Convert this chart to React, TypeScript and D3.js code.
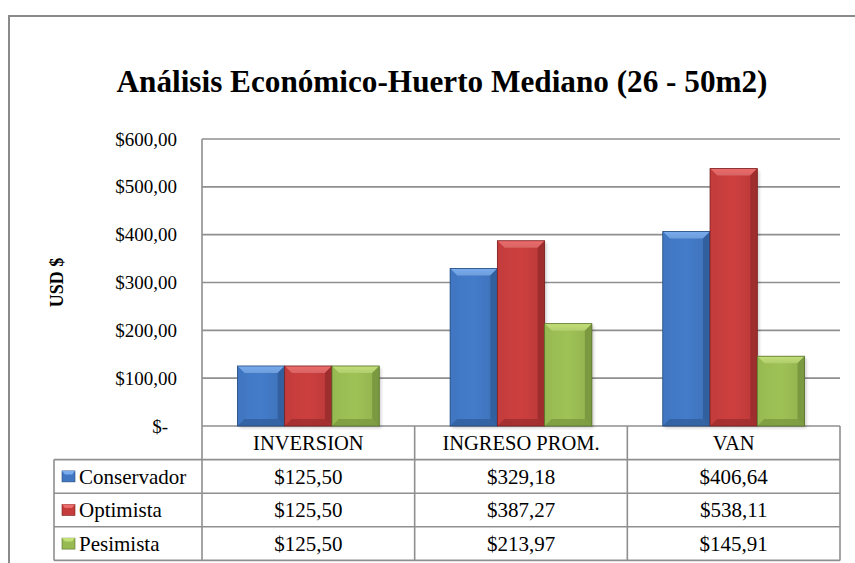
import React from "react";
import * as d3 from "d3";

// Categories, series and values
const categories = ["INVERSION", "INGRESO PROM.", "VAN"];
const seriesNames = ["Conservador", "Optimista", "Pesimista"];
const conservador = [125.5, 329.18, 406.64];
const optimista = [125.5, 387.27, 538.11];
const pesimista = [125.5, 213.97, 145.91];
const seriesValues = [conservador, optimista, pesimista];
const yTicks = [0, 100, 200, 300, 400, 500, 600];

const title = "Análisis Económico-Huerto Mediano (26 - 50m2)";
const yTitle = "USD $";

// Bar palettes: main, light bevel, dark bevel, outline
const palettes = [
  { main: "#4177c2", light: "#78acef", dark: "#325f9e", edge: "#254a7c" },
  { main: "#c43c3c", light: "#ec6c6c", dark: "#9e2d2d", edge: "#7a2020" },
  { main: "#98ba52", light: "#c2e078", dark: "#7a9940", edge: "#58712a" },
];

const W = 855;
const H = 563;
const plot = { left: 202, right: 840, top: 139, bottom: 426 };
const tableLeft = 54;
const rowH = 33.6;
const serif = "'Liberation Serif', 'Times New Roman', serif";
const gridColor = "#8f8f8f";

const locale = d3.formatLocale({
  decimal: ",",
  thousands: ".",
  grouping: [3],
  currency: ["$", ""],
});
const money = locale.format("$,.2f");
const tickFmt = (v: number) => (v === 0 ? "$-" : money(v));

function Bevel({ x, y, w, h, si }: { x: number; y: number; w: number; h: number; si: number }) {
  const p = palettes[si];
  const b = Math.min(7, h / 2, w / 2);
  return (
    <g>
      <rect x={x + 2} y={y + 2} width={w} height={h} fill="#000" opacity={0.18} filter="url(#shadowBlur)" />
      <rect x={x} y={y} width={w} height={h} fill={`url(#barGrad${si})`} />
      <polygon
        points={`${x},${y} ${x + w},${y} ${x + w - b},${y + b} ${x + b},${y + b}`}
        fill={`url(#topGrad${si})`}
      />
      <polygon
        points={`${x},${y} ${x + b},${y + b} ${x + b},${y + h - b} ${x},${y + h}`}
        fill={p.main}
        opacity={0.9}
      />
      <polygon
        points={`${x + w},${y} ${x + w},${y + h} ${x + w - b},${y + h - b} ${x + w - b},${y + b}`}
        fill={p.dark}
      />
      <polygon
        points={`${x},${y + h} ${x + b},${y + h - b} ${x + w - b},${y + h - b} ${x + w},${y + h}`}
        fill={p.dark}
        opacity={0.8}
      />
      <rect x={x} y={y} width={w} height={h} fill="none" stroke={p.edge} strokeWidth={0.8} />
    </g>
  );
}

export default function App() {
  const x = d3.scaleBand<string>().domain(categories).range([plot.left, plot.right]).padding(0);
  const xs = d3
    .scaleBand<string>()
    .domain(seriesNames)
    .range([0, x.bandwidth()])
    .paddingInner(0)
    .paddingOuter(0.75);
  const y = d3.scaleLinear().domain([0, 600]).range([plot.bottom, plot.top]);

  const rowTop = (i: number) => plot.bottom + i * rowH;
  const tableBottom = rowTop(4);

  return (
    <svg
      width={W}
      height={H}
      style={{ position: "absolute", left: 0, top: 0, background: "#fff" }}
      fontFamily={serif}
    >
      <defs>
        <filter id="shadowBlur" x="-20%" y="-20%" width="140%" height="140%">
          <feGaussianBlur stdDeviation="1.5" />
        </filter>
        {palettes.map((p, i) => (
          <linearGradient key={`b${i}`} id={`barGrad${i}`} x1="0" x2="1" y1="0" y2="0">
            <stop offset="0" stopColor={p.main} />
            <stop offset="0.5" stopColor={d3.color(p.main)!.brighter(0.12).toString()} />
            <stop offset="1" stopColor={d3.color(p.main)!.darker(0.15).toString()} />
          </linearGradient>
        ))}
        {palettes.map((p, i) => (
          <linearGradient key={`t${i}`} id={`topGrad${i}`} x1="0" x2="0" y1="0" y2="1">
            <stop offset="0" stopColor={p.light} />
            <stop offset="1" stopColor={d3.color(p.light)!.darker(0.25).toString()} />
          </linearGradient>
        ))}
      </defs>

      <rect x={0} y={0} width={W} height={H} fill="#fff" />
      {/* chart frame */}
      <rect x={9} y={16} width={W + 20} height={H + 20} fill="none" stroke="#8a8a8a" strokeWidth={2} />

      {/* title */}
      <text
        x={442}
        y={92}
        textAnchor="middle"
        fontSize={31}
        fontWeight="bold"
        textLength={651}
        lengthAdjust="spacingAndGlyphs"
        fill="#000"
      >
        {title}
      </text>

      {/* gridlines */}
      {yTicks.map((t) => (
        <line key={t} x1={plot.left} x2={plot.right} y1={y(t)} y2={y(t)} stroke={gridColor} strokeWidth={1.6} />
      ))}

      {/* tick labels */}
      {yTicks.map((t) => (
        <text
          key={t}
          x={t === 0 ? 168 : 177}
          y={y(t)}
          dy="0.35em"
          textAnchor="end"
          fontSize={19}
          fill="#000"
        >
          {tickFmt(t)}
        </text>
      ))}

      {/* axis title */}
      <text
        transform={`translate(63,${(plot.top + plot.bottom) / 2}) rotate(-90)`}
        textAnchor="middle"
        fontSize={18}
        fontWeight="bold"
        fill="#000"
      >
        {yTitle}
      </text>

      {/* bars */}
      {seriesValues.map((vals, si) =>
        vals.map((v, ci) => {
          const bx = (x(categories[ci]) ?? 0) + (xs(seriesNames[si]) ?? 0);
          const by = y(v);
          return (
            <Bevel key={`${si}-${ci}`} x={bx} y={by} w={xs.bandwidth()} h={plot.bottom - by} si={si} />
          );
        })
      )}

      {/* data table */}
      <g stroke={gridColor} strokeWidth={1.6} fill="none">
        <line x1={plot.left} x2={plot.left} y1={plot.top} y2={tableBottom} />
        <line x1={plot.right} x2={plot.right} y1={plot.bottom} y2={tableBottom} />
        {categories.map((c, i) =>
          i > 0 ? <line key={c} x1={x(c)} x2={x(c)} y1={plot.bottom} y2={tableBottom} /> : null
        )}
        {[1, 2, 3, 4].map((r) => (
          <line key={r} x1={tableLeft} x2={plot.right} y1={rowTop(r)} y2={rowTop(r)} />
        ))}
        <line x1={tableLeft} x2={tableLeft} y1={rowTop(1)} y2={tableBottom} />
      </g>

      {/* category header */}
      {categories.map((c) => (
        <text
          key={c}
          x={(x(c) ?? 0) + x.bandwidth() / 2}
          y={rowTop(0) + rowH / 2}
          dy="0.35em"
          textAnchor="middle"
          fontSize={20.5}
          fill="#000"
        >
          {c}
        </text>
      ))}

      {/* series rows */}
      {seriesNames.map((s, si) => {
        const cy = rowTop(si + 1) + rowH / 2;
        const p = palettes[si];
        return (
          <g key={s}>
            <g>
              <rect x={62} y={cy - 5.5} width={13} height={11} fill={p.main} stroke={p.edge} strokeWidth={0.6} />
              <polygon points={`${62},${cy - 5.5} ${75},${cy - 5.5} ${72},${cy - 2} ${65},${cy - 2}`} fill={p.light} />
            </g>
            <text x={79} y={cy} dy="0.35em" fontSize={21} fill="#000">
              {s}
            </text>
            {seriesValues[si].map((v, ci) => (
              <text
                key={ci}
                x={(x(categories[ci]) ?? 0) + x.bandwidth() / 2}
                y={cy}
                dy="0.35em"
                textAnchor="middle"
                fontSize={21}
                fill="#000"
              >
                {money(v)}
              </text>
            ))}
          </g>
        );
      })}
    </svg>
  );
}
